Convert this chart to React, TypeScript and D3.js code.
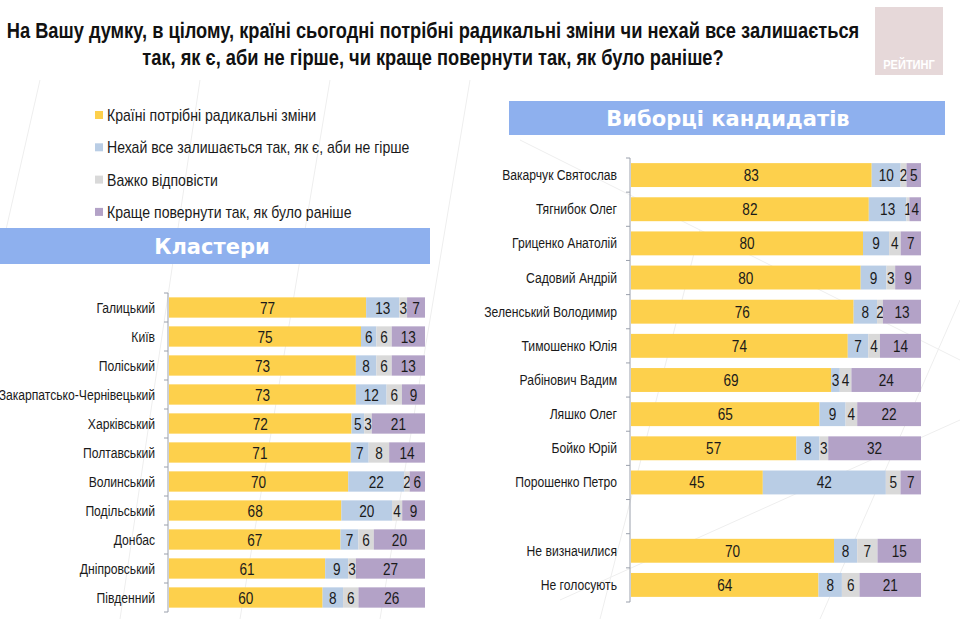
import React from "react";
import * as d3 from "d3";

const titleLines = [
  "На Вашу думку, в цілому, країні сьогодні потрібні радикальні зміни чи нехай все залишається",
  "так, як є, аби не гірше, чи краще повернути так, як було раніше?",
];
const seriesKeys = ["radical", "keep", "hard", "back"];
const seriesNames = [
  "Країні потрібні радикальні зміни",
  "Нехай все залишається так, як є, аби не гірше",
  "Важко відповісти",
  "Краще повернути так, як було раніше",
];
const seriesColors = ["#fdd04c", "#b9cde5", "#d9d9d9", "#b3a2c7"];

const clusterNames = [
  "Галицький", "Київ", "Поліський", "Закарпатсько-Чернівецький", "Харківський",
  "Полтавський", "Волинський", "Подільський", "Донбас", "Дніпровський", "Південний",
];
const clusterRadical = [77, 75, 73, 73, 72, 71, 70, 68, 67, 61, 60];
const clusterKeep = [13, 6, 8, 12, 5, 7, 22, 20, 7, 9, 8];
const clusterHard = [3, 6, 6, 6, 3, 8, 2, 4, 6, 3, 6];
const clusterBack = [7, 13, 13, 9, 21, 14, 6, 9, 20, 27, 26];

const candidateNames = [
  "Вакарчук Святослав", "Тягнибок Олег", "Гриценко Анатолій", "Садовий Андрій",
  "Зеленський Володимир", "Тимошенко Юлія", "Рабінович Вадим", "Ляшко Олег",
  "Бойко Юрій", "Порошенко Петро", "", "Не визначилися", "Не голосують",
];
const candidateRadical = [83, 82, 80, 80, 76, 74, 69, 65, 57, 45, null, 70, 64];
const candidateKeep = [10, 13, 9, 9, 8, 7, 3, 9, 8, 42, null, 8, 8];
const candidateHard = [2, 1, 4, 3, 2, 4, 4, 4, 3, 5, null, 7, 6];
const candidateBack = [5, 4, 7, 9, 13, 14, 24, 22, 32, 7, null, 15, 21];

const panelTitles = ["Кластери", "Виборці кандидатів"];

const FONT = "'Liberation Sans', Arial, sans-serif";
const HEAD_FONT = "'DejaVu Sans', sans-serif";

type Row = { name: string; radical: number; keep: number; hard: number; back: number; empty: boolean };

function NText({ x, y, sx, anchor, size, weight, fill, children }: {
  x: number; y: number; sx: number; anchor?: string; size: number; weight?: string; fill?: string; children: React.ReactNode;
}) {
  return (
    <text transform={`translate(${x},${y}) scale(${sx},1)`} textAnchor={anchor || "start"} fontFamily={FONT}
      fontSize={size} fontWeight={weight || "normal"} fill={fill || "#1a1a1a"}>{children}</text>
  );
}

function buildRows(names: string[], a: (number | null)[], b: (number | null)[], c: (number | null)[], d: (number | null)[]): Row[] {
  return names.map((name, i) => ({
    name,
    radical: a[i] ?? 0,
    keep: b[i] ?? 0,
    hard: c[i] ?? 0,
    back: d[i] ?? 0,
    empty: a[i] == null,
  }));
}

function StackedPanel({ rows, x0, x1, y0, y1, labelX }: {
  rows: Row[]; x0: number; x1: number; y0: number; y1: number; labelX: number;
}) {
  const y = d3.scaleBand<string>().domain(rows.map((_, i) => String(i))).range([y0, y1]).paddingInner(0.3).paddingOuter(0.15);
  const x = d3.scaleLinear().domain([0, 1]).range([x0, x1]);
  const stack = d3.stack<Row>().keys(seriesKeys).offset(d3.stackOffsetExpand);
  const layers = stack(rows);
  const step = y.step();
  const bw = y.bandwidth();
  const boundaries = d3.range(rows.length + 1).map((i) => y0 + i * step);
  return (
    <g>
      {layers.map((layer, li) => (
        <g key={layer.key}>
          {layer.map((seg, i) => {
            const r = rows[i];
            if (r.empty || isNaN(seg[0]) || isNaN(seg[1])) return null;
            const xa = x(seg[0]);
            const xb = x(seg[1]);
            const yy = y(String(i))!;
            const v = (r as any)[layer.key] as number;
            return (
              <g key={i}>
                <rect x={xa} y={yy} width={Math.max(0, xb - xa)} height={bw} fill={seriesColors[li]} />
                <NText x={(xa + xb) / 2} y={yy + bw / 2 + 6} sx={0.85} anchor="middle" size={16}>{v}</NText>
              </g>
            );
          })}
        </g>
      ))}
      <line x1={x0 - 1} x2={x0 - 1} y1={y0} y2={y1} stroke="#9aa0ac" strokeWidth={1} />
      {boundaries.map((b, i) => (
        <line key={i} x1={x0 - 5} x2={x0 - 1} y1={b} y2={b} stroke="#9aa0ac" strokeWidth={1} />
      ))}
      {rows.map((r, i) => (
        <NText key={i} x={labelX} y={y(String(i))! + bw / 2 + 5} sx={0.81} anchor="end" size={15}>{r.name}</NText>
      ))}
    </g>
  );
}

export default function App() {
  const clusterRows = buildRows(clusterNames, clusterRadical, clusterKeep, clusterHard, clusterBack);
  const candidateRows = buildRows(candidateNames, candidateRadical, candidateKeep, candidateHard, candidateBack);
  const bgLines = [
    [40, 80, -10, 300], [200, 80, 120, 619], [330, 80, 240, 619], [470, 80, 380, 619],
    [700, 230, 600, 619], [960, 300, 820, 619], [520, 140, 960, 360], [560, 600, 960, 420],
  ];
  return (
    <svg width={960} height={619} style={{ position: "absolute", left: 0, top: 0, background: "#fff" }}>
      <rect width={960} height={619} fill="#ffffff" />
      {bgLines.map((l, i) => (
        <line key={i} x1={l[0]} y1={l[1]} x2={l[2]} y2={l[3]} stroke="#eeeeee" strokeWidth={1} />
      ))}
      {titleLines.map((t, i) => (
        <NText key={i} x={433} y={38 + i * 27} sx={0.83} anchor="middle" size={22} weight="bold" fill="#111">{t}</NText>
      ))}
      <rect x={875} y={7} width={68} height={68} fill="#e6d8d9" />
      <NText x={909} y={69} sx={0.85} anchor="middle" size={13} weight="bold" fill="#ffffff">РЕЙТИНГ</NText>

      {seriesNames.map((n, i) => (
        <g key={i}>
          <rect x={95} y={111 + i * 32.3} width={8} height={8} fill={seriesColors[i]} />
          <NText x={107} y={121 + i * 32.3} sx={0.88} size={16}>{n}</NText>
        </g>
      ))}

      <rect x={0} y={228} width={430} height={36} fill="#8eb0ee" />
      <text x={212} y={254} textAnchor="middle" fontFamily={HEAD_FONT} fontWeight="bold" fontSize={21} fill="#ffffff">{panelTitles[0]}</text>
      <rect x={509} y={101} width={436} height={34} fill="#8eb0ee" />
      <text x={728} y={126} textAnchor="middle" fontFamily={HEAD_FONT} fontWeight="bold" fontSize={21} fill="#ffffff">{panelTitles[1]}</text>

      <StackedPanel rows={clusterRows} x0={169} x1={425} y0={293} y1={612} labelX={155} />
      <StackedPanel rows={candidateRows} x0={631} x1={921} y0={158} y1={602} labelX={617} />
    </svg>
  );
}
